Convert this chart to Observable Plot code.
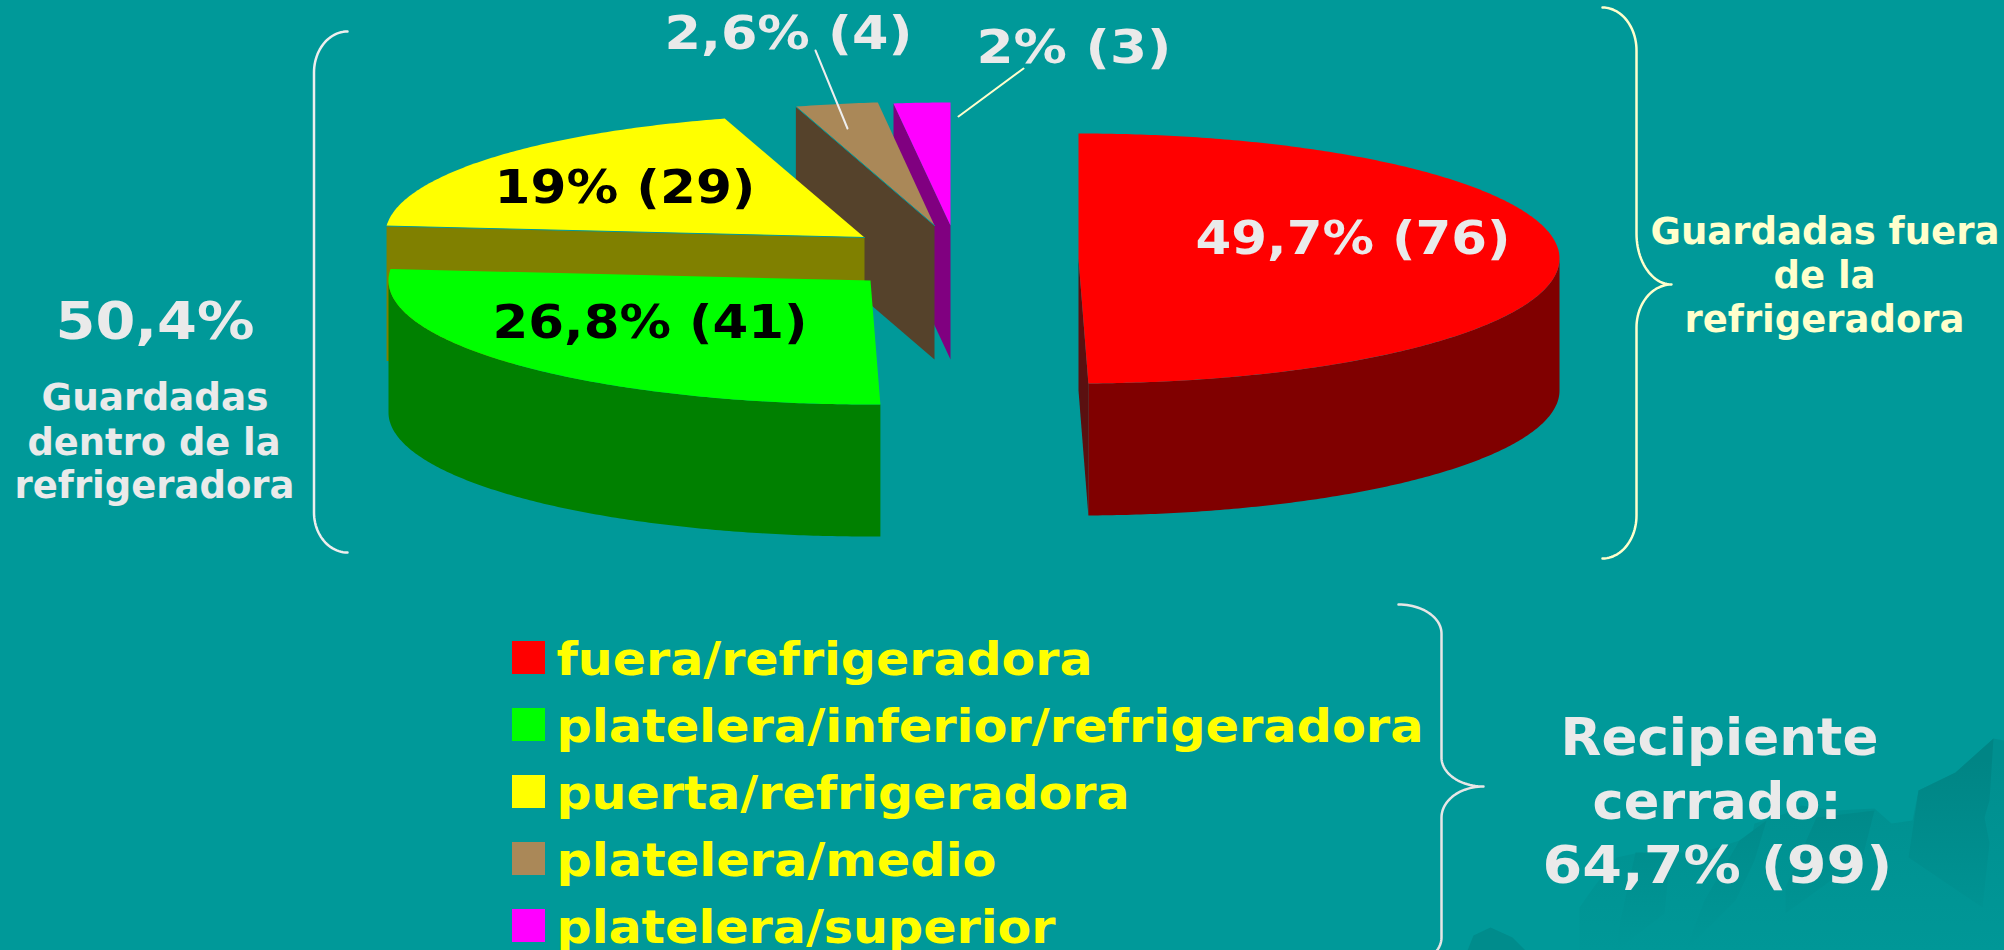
<!DOCTYPE html>
<html>
<head>
<meta charset="utf-8">
<script src="https://cdn.jsdelivr.net/npm/d3@7"></script>
<script src="https://cdn.jsdelivr.net/npm/@observablehq/plot@0.6"></script>
<style>
  html, body { margin: 0; padding: 0; background: #009999; overflow: hidden; }
  svg { display: block; }
</style>
</head>
<body>
<div id="chart"></div>
<script>
// ---- data ----
const categories = ["fuera/refrigeradora", "platelera/inferior/refrigeradora", "puerta/refrigeradora", "platelera/medio", "platelera/superior"];
const counts = [76, 41, 29, 4, 3];
const percents = ["49,7%", "26,8%", "19%", "2,6%", "2%"];
const topColors = ["#ff0000", "#00ff00", "#ffff00", "#aa8858", "#ff00ff"];
const sideColors = ["#800000", "#008000", "#808000", "#55422b", "#800080"];

// ---- layout of the exploded 3-D pie ----
const sliceLayout = [
  {ax: 1078, ay: 258, rx0: 481, rx1: 481, ry: 125, depth: 132},
  {ax: 870,  ay: 280, rx0: 482, rx1: 482, ry: 124, depth: 132},
  {ax: 864,  ay: 237, rx0: 480, rx1: 493, ry: 124, depth: 135},
  {ax: 934,  ay: 225, rx0: 489, rx1: 461, ry: 124, depth: 134},
  {ax: 950,  ay: 225, rx0: 464, rx1: 464, ry: 123, depth: 134}
];
const pieLabelSpots = [
  {x: 1195, y: 253, w: 315, color: "#eaeaea"},
  {x: 492,  y: 337, w: 315, color: "#000000"},
  {x: 494,  y: 202, w: 261, color: "#000000"},
  {x: 664,  y: 48,  w: 248, color: "#eaeaea"},
  {x: 976,  y: 62,  w: 195, color: "#eaeaea"}
];
const sideNotes = [
  {text: "50,4%", x: 55, y: 338, w: 199, fs: 52, color: "#eaeaea"},
  {text: "Guardadas", x: 41, y: 409, w: 227, fs: 37, color: "#eaeaea"},
  {text: "dentro de la", x: 27, y: 454, w: 253, fs: 37, color: "#eaeaea"},
  {text: "refrigeradora", x: 14, y: 497, w: 280, fs: 37, color: "#eaeaea"},
  {text: "Guardadas fuera", x: 1650, y: 243, w: 349, fs: 37, color: "#ffffcc"},
  {text: "de la", x: 1773, y: 287, w: 102, fs: 37, color: "#ffffcc"},
  {text: "refrigeradora", x: 1684, y: 331, w: 280, fs: 37, color: "#ffffcc"},
  {text: "Recipiente", x: 1560, y: 754, w: 318, fs: 51, color: "#eaeaea"},
  {text: "cerrado:", x: 1592, y: 818, w: 249, fs: 51, color: "#eaeaea"},
  {text: "64,7% (99)", x: 1542, y: 882, w: 350, fs: 51, color: "#eaeaea"}
];
const legendWidths = [536, 867, 573, 440, 499];

// faint mountains printed on the slide's background
const backdrop = [
  {fill: "url(#mtnSoft)", pts: [[1579,950],[1579,907],[1593,887],[1616,857],[1639,852],[1670,853],[1708,850],[1739,840],[1752,832],[1754,823],[1785,813],[1801,805],[1835,810],[1874,808],[1891,823],[1912,820],[1918,790],[1955,772],[1993,738],[2004,740],[2004,950]]},
  {fill: "url(#mtnDark)", pts: [[1635,852],[1670,853],[1664,913],[1616,950],[1620,920]]},
  {fill: "url(#mtnDark)", pts: [[1739,840],[1766,820],[1754,860],[1735,900],[1685,950],[1704,900]]},
  {fill: "url(#mtnDark)", pts: [[1816,817],[1874,810],[1862,857],[1785,913],[1785,887]]},
  {fill: "url(#mtnDark)", pts: [[1918,790],[1955,772],[1993,738],[1989,800],[1984,817],[1989,843],[1982,907],[1908,857]]},
  {fill: "#008c8c", pts: [[1467,950],[1473,935],[1490,927],[1512,937],[1525,950]]}
];

// ---- geometry derived from the counts ----
const arcs = d3.pie().sort(null).startAngle(0).endAngle(2 * Math.PI)(counts);
const slices = arcs.map((a, i) => {
  const g = sliceLayout[i];
  const at = (t, drop = 0) => {
    const f = (t - a.startAngle) / (a.endAngle - a.startAngle);
    const rx = g.rx0 + (g.rx1 - g.rx0) * f;
    return {x: g.ax + rx * Math.sin(t), y: g.ay - g.ry * Math.cos(t) + drop};
  };
  const sweep = (t0, t1, drop = 0) => {
    const n = Math.max(2, Math.ceil((t1 - t0) / 0.01));
    return d3.range(n + 1).map(k => at(t0 + (t1 - t0) * k / n, drop));
  };
  const apex = {x: g.ax, y: g.ay};
  const apexLow = {x: g.ax, y: g.ay + g.depth};
  return {
    i, a, g, at, apex, category: categories[i],
    top: [apex, ...sweep(a.startAngle, a.endAngle)],
    startFace: [apex, at(a.startAngle), at(a.startAngle, g.depth), apexLow],
    endFace: [apex, at(a.endAngle), at(a.endAngle, g.depth), apexLow],
    wall(t0, t1) { return [...sweep(t0, t1), ...sweep(t0, t1, g.depth).reverse()]; }
  };
});

const poly = (pts, fill) => Plot.line(pts, {x: "x", y: "y", fill, stroke: "none"});
const topOf = s => Plot.line(s.top, {x: "x", y: "y", fill: () => s.category, stroke: "none"});
const seam = s => Plot.line([s.at(s.a.startAngle), s.apex], {x: "x", y: "y", stroke: "#009999", strokeWidth: 1});

// gradients for the background mountains, which fade towards the bottom
function gradient(id, color) {
  const ns = "http://www.w3.org/2000/svg";
  const defs = document.createElementNS(ns, "defs");
  const lg = document.createElementNS(ns, "linearGradient");
  lg.setAttribute("id", id);
  lg.setAttribute("gradientUnits", "userSpaceOnUse");
  lg.setAttribute("x1", 0); lg.setAttribute("x2", 0);
  lg.setAttribute("y1", 760); lg.setAttribute("y2", 950);
  [[0, color], [1, "#009797"]].forEach(([offset, c]) => {
    const s = document.createElementNS(ns, "stop");
    s.setAttribute("offset", offset);
    s.setAttribute("stop-color", c);
    lg.append(s);
  });
  defs.append(lg);
  return defs;
}

// ---- curly braces ----
const Q = d3.range(0, 1.0001, 1 / 24).map(k => k * Math.PI / 2);
function brace({tip, spine, cusp, y0, c1, c2, yc, c3, c4, y1}) {
  const pts = Q.map(t => ({x: tip + (spine - tip) * Math.sin(t), y: c1 - (c1 - y0) * Math.cos(t)}));
  if (cusp != null) {
    pts.push(...Q.map(t => ({x: cusp + (spine - cusp) * Math.cos(t), y: c2 + (yc - c2) * Math.sin(t)})));
    pts.push(...Q.map(t => ({x: cusp + (spine - cusp) * Math.sin(t), y: c3 - (c3 - yc) * Math.cos(t)})));
  }
  pts.push(...Q.map(t => ({x: tip + (spine - tip) * Math.cos(t), y: c4 + (y1 - c4) * Math.sin(t)})));
  return pts;
}
const braces = [
  {color: "#eeeeee", pts: brace({tip: 347, spine: 313.5, y0: 31, c1: 72, c4: 512, y1: 552})},
  {color: "#ffffcc", pts: brace({tip: 1602, spine: 1636, cusp: 1671, y0: 7, c1: 50, c2: 233, yc: 284, c3: 327, c4: 515, y1: 558})},
  {color: "#e6e6e6", pts: brace({tip: 1398, spine: 1441, cusp: 1483, y0: 604, c1: 633, c2: 757, yc: 786, c3: 817, c4: 937, y1: 966})}
];
const leaders = [
  {color: "#eeeeee", pts: [{x: 815, y: 50}, {x: 847, y: 128}]},
  {color: "#ffffcc", pts: [{x: 1023, y: 68}, {x: 958, y: 116}]}
];

// ---- every text, in one mark ----
const texts = [
  ...arcs.map((a, i) => ({text: `${percents[i]} (${counts[i]})`, fs: 46, ...pieLabelSpots[i]})),
  ...sideNotes,
  ...categories.map((c, i) => ({text: c, x: 556, y: 674 + i * 67, w: legendWidths[i], fs: 46, color: "#ffff00"}))
];

const [red, green, yellow, brown, magenta] = slices;

const chart = Plot.plot({
  width: 2004,
  height: 950,
  margin: 0,
  style: {background: "#009999"},
  x: {axis: null, domain: [0, 2004], range: [0, 2004]},
  y: {axis: null, domain: [0, 950], range: [0, 950]},
  color: {domain: categories, range: topColors},
  marks: [
    () => gradient("mtnSoft", "#008f8f"),
    () => gradient("mtnDark", "#008585"),
    ...backdrop.map(b => poly(b.pts.map(([x, y]) => ({x, y})), b.fill)),
    // pie, back to front
    poly(magenta.startFace, sideColors[4]),
    topOf(magenta),
    poly(brown.startFace, sideColors[3]),
    topOf(brown),
    seam(brown),
    poly(yellow.startFace, sideColors[2]),
    topOf(yellow),
    seam(yellow),
    poly(green.wall(green.a.startAngle, 1.5 * Math.PI), sideColors[1]),
    topOf(green),
    poly(red.endFace, "#5a1010"),
    poly(red.wall(0.5 * Math.PI, red.a.endAngle), sideColors[0]),
    topOf(red),
    // braces and leader lines
    ...braces.map(b => Plot.line(b.pts, {x: "x", y: "y", stroke: b.color, strokeWidth: 2.5, clip: true})),
    ...leaders.map(l => Plot.line(l.pts, {x: "x", y: "y", stroke: l.color, strokeWidth: 2})),
    // legend swatches
    Plot.rect(categories, {
      x1: () => 512, x2: () => 545,
      y1: (d, i) => 641 + i * 67, y2: (d, i) => 674 + i * 67,
      fill: d => d
    }),
    // texts
    Plot.text(texts, {
      x: "x", y: "y", text: "text",
      fontSize: "fs", fill: d => d.color,
      textAnchor: "start", lineAnchor: "bottom",
      fontFamily: "DejaVu Sans", fontWeight: "bold"
    })
  ]
});

// fit each line to the measured width
chart.querySelectorAll("text").forEach((el, i) => {
  if (!texts[i]) return;
  el.setAttribute("textLength", texts[i].w);
  el.setAttribute("lengthAdjust", "spacingAndGlyphs");
});

document.getElementById("chart").append(chart);
</script>
</body>
</html>
